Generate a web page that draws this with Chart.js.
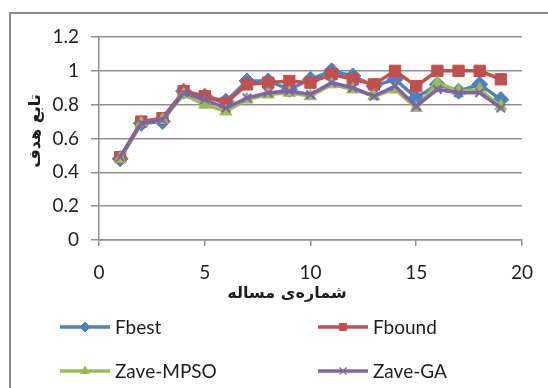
<!DOCTYPE html>
<html>
<head>
<meta charset="utf-8">
<script src="https://cdn.jsdelivr.net/npm/chart.js@4/dist/chart.umd.min.js"></script>
<style>
  html, body { margin: 0; padding: 0; background: #ffffff; }
  #wrap { width: 548px; height: 388px; position: relative; }
</style>
</head>
<body>
<div id="wrap"><canvas id="c" width="548" height="388"></canvas></div>
<script>
// Problem numbers (x axis)
const problems = [1, 2, 3, 4, 5, 6, 7, 8, 9, 10, 11, 12, 13, 14, 15, 16, 17, 18, 19];

// Objective function values per problem
const fBest    = [0.48, 0.69, 0.70, 0.88, 0.85, 0.82, 0.94, 0.94, 0.89, 0.95, 1.00, 0.97, 0.91, 0.95, 0.84, 0.92, 0.88, 0.92, 0.83];
const fBound   = [0.49, 0.70, 0.72, 0.88, 0.85, 0.81, 0.92, 0.93, 0.94, 0.93, 0.98, 0.95, 0.92, 1.00, 0.91, 1.00, 1.00, 1.00, 0.95];
const zaveMPSO = [0.48, 0.69, 0.71, 0.86, 0.80, 0.76, 0.83, 0.86, 0.87, 0.85, 0.92, 0.89, 0.85, 0.89, 0.78, 0.93, 0.88, 0.89, 0.79];
const zaveGA   = [0.49, 0.69, 0.71, 0.87, 0.83, 0.78, 0.84, 0.87, 0.88, 0.86, 0.93, 0.90, 0.85, 0.91, 0.79, 0.89, 0.87, 0.87, 0.78];

const seriesNames = ['Fbest', 'Fbound', 'Zave-MPSO', 'Zave-GA'];

// Axis ranges and labels
const xTicks = [0, 5, 10, 15, 20];
const yTicks = [0, 0.2, 0.4, 0.6, 0.8, 1, 1.2];
const yTickLabels = ['0', '0.2', '0.4', '0.6', '0.8', '1', '1.2'];
const xTitle = 'شماره‌ی مساله';
const yTitle = 'تابع هدف';

const FONT = "Lato, 'Open Sans', 'DejaVu Sans', sans-serif";
const TEXT = '#1e1e1e';
const GRID = '#8e8e8e';

function pts(values) {
  return problems.map((p, i) => ({ x: p, y: values[i] }));
}

const datasets = [
  { label: seriesNames[0], data: pts(fBest), borderColor: '#4F81BD', backgroundColor: '#4F81BD',
    pointStyle: 'rectRot', pointRadius: 8, pointBorderWidth: 1, order: 4 },
  { label: seriesNames[1], data: pts(fBound), borderColor: '#C0504D', backgroundColor: '#C0504D',
    pointStyle: 'rect', pointRadius: 8, pointBorderWidth: 1, order: 3 },
  { label: seriesNames[2], data: pts(zaveMPSO), borderColor: '#9BBB59', backgroundColor: '#9BBB59',
    pointStyle: 'triangle', pointRadius: 7, pointBorderWidth: 1, order: 2 },
  { label: seriesNames[3], data: pts(zaveGA), borderColor: '#8064A2', backgroundColor: '#8064A2',
    pointStyle: 'crossRot', pointRadius: 6, pointBorderWidth: 2, order: 1 }
];
datasets.forEach(d => {
  d.borderWidth = 3.5;
  d.pointBackgroundColor = d.backgroundColor;
  d.pointBorderColor = d.borderColor;
  d.tension = 0;
});

// Frame, axis titles and a two-column legend drawn on the canvas
const decorations = {
  id: 'decorations',
  afterDraw(chart) {
    const ctx = chart.ctx;
    ctx.save();
    // outer frame
    ctx.strokeStyle = '#8c8c8c';
    ctx.lineWidth = 2;
    ctx.beginPath();
    ctx.moveTo(10, 389);
    ctx.lineTo(10, 13);
    ctx.lineTo(549, 13);
    ctx.stroke();

    // axis titles
    ctx.fillStyle = TEXT;
    ctx.font = "bold 16px 'DejaVu Sans', sans-serif";
    ctx.textAlign = 'center';
    ctx.textBaseline = 'middle';
    ctx.direction = 'rtl';
    ctx.fillText(xTitle, 287, 294);
    ctx.save();
    ctx.translate(36, 131);
    ctx.rotate(-Math.PI / 2);
    ctx.fillText(yTitle, 0, 0);
    ctx.restore();
    ctx.direction = 'ltr';

    // legend
    const slots = [
      { x: 60, y: 327 }, { x: 318, y: 327 },
      { x: 60, y: 371 }, { x: 318, y: 371 }
    ];
    ctx.font = '19px ' + FONT;
    ctx.textAlign = 'left';
    chart.data.datasets.forEach((ds, i) => {
      const s = slots[i];
      ctx.strokeStyle = ds.borderColor;
      ctx.lineWidth = 3.5;
      ctx.beginPath();
      ctx.moveTo(s.x, s.y);
      ctx.lineTo(s.x + 50, s.y);
      ctx.stroke();
      ctx.fillStyle = ds.backgroundColor;
      ctx.strokeStyle = ds.borderColor;
      ctx.lineWidth = ds.pointStyle === 'crossRot' ? 1.2 : 1;
      Chart.helpers.drawPoint(ctx, {
        pointStyle: ds.pointStyle,
        radius: 5,
        borderWidth: ctx.lineWidth,
        rotation: 0
      }, s.x + 25, s.y);
      ctx.fillStyle = TEXT;
      ctx.fillText(ds.label, s.x + 55, s.y + 1);
    });
    ctx.restore();
  }
};

new Chart(document.getElementById('c'), {
  type: 'line',
  data: { datasets },
  plugins: [decorations],
  options: {
    responsive: false,
    animation: false,
    layout: { padding: { left: 39, right: 24, top: 37, bottom: 108 } },
    plugins: { legend: { display: false }, tooltip: { enabled: false } },
    scales: {
      x: {
        type: 'linear',
        min: 0, max: 20,
        afterFit(scale) { scale.height = 40; },
        afterBuildTicks(scale) { scale.ticks = xTicks.map(v => ({ value: v })); },
        ticks: { font: { family: FONT, size: 19 }, color: TEXT, padding: 15, maxRotation: 0 },
        grid: { drawOnChartArea: false, drawTicks: true, tickLength: 6, color: GRID, lineWidth: 1.5 },
        border: { display: true, color: GRID, width: 1.5 }
      },
      y: {
        min: 0, max: 1.2,
        afterFit(scale) { scale.width = 60; },
        afterBuildTicks(scale) { scale.ticks = yTicks.map(v => ({ value: v })); },
        ticks: {
          font: { family: FONT, size: 19 }, color: TEXT, padding: 12,
          callback(value, index) { return yTickLabels[index]; }
        },
        grid: { color: GRID, lineWidth: 1.5, tickLength: 8 },
        border: { display: true, color: GRID, width: 1.5 }
      }
    }
  }
});
</script>
</body>
</html>
